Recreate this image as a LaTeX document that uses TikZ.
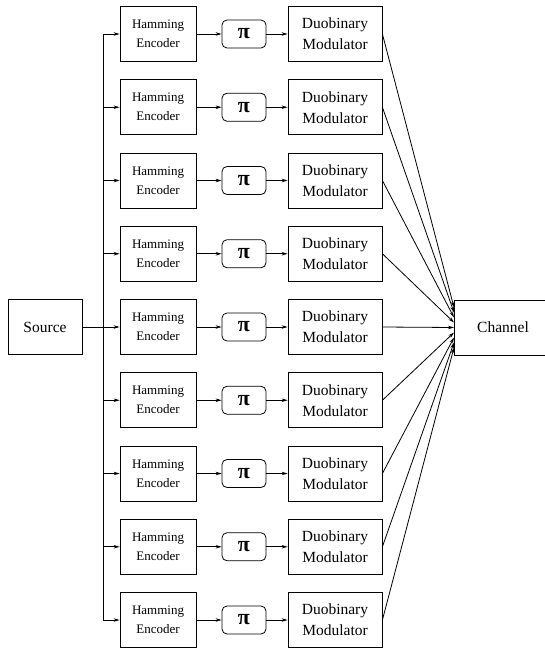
\documentclass[tikz,border=0pt]{standalone}
\usepackage{fontspec}
\setmainfont{Liberation Serif}
\usetikzlibrary{arrows.meta}
\begin{document}
\begin{tikzpicture}[x=1pt,y=-1pt,
 box/.style={draw,line width=0.8pt,inner sep=0pt,align=center},
 ham/.style={box,minimum width=76pt,minimum height=55pt,font=\fontsize{13}{19}\selectfont},
 duo/.style={box,minimum width=94pt,minimum height=55pt,font=\fontsize{15.5}{21}\selectfont},
 perm/.style={box,rounded corners=5pt,minimum width=44pt,minimum height=28pt,font=\fontsize{22}{22}\selectfont\bfseries},
 big/.style={box,minimum height=55pt,font=\fontsize{15.5}{18}\selectfont},
 arr/.style={-{Stealth[length=6pt,width=3.5pt]},line width=0.8pt},
 ln/.style={line width=0.8pt}]
\useasboundingbox (0,0) rectangle (545,650);
\node[big,minimum width=74pt] (src) at (45,327) {Source};
\node[big,minimum width=98pt] (ch) at (503,327.5) {Channel};
\coordinate (j) at (103,327);
\draw[ln] (src.east) -- (j);
\foreach \i in {1,...,9} {
  \pgfmathsetmacro\yy{34+73.25*(\i-1)}
  \node[ham] (h\i) at (158,\yy) {Hamming\\Encoder};
  \node[perm] (p\i) at (244,\yy) {π};
  \node[duo] (d\i) at (335,\yy) {Duobinary\\Modulator};
  \coordinate (t\i) at (103,\yy);
  \pgfmathsetmacro\ey{327.5+(\i-5)*5}
  \coordinate (e\i) at (454,\ey);
  \draw[arr] (t\i) -- (h\i.west);
  \draw[arr] (h\i.east) -- (p\i.west);
  \draw[arr] (p\i.east) -- (d\i.west);
  \draw[arr] (d\i.east) -- (e\i);
}
\draw[ln] (t1) -- (t9);
\end{tikzpicture}
\end{document}
